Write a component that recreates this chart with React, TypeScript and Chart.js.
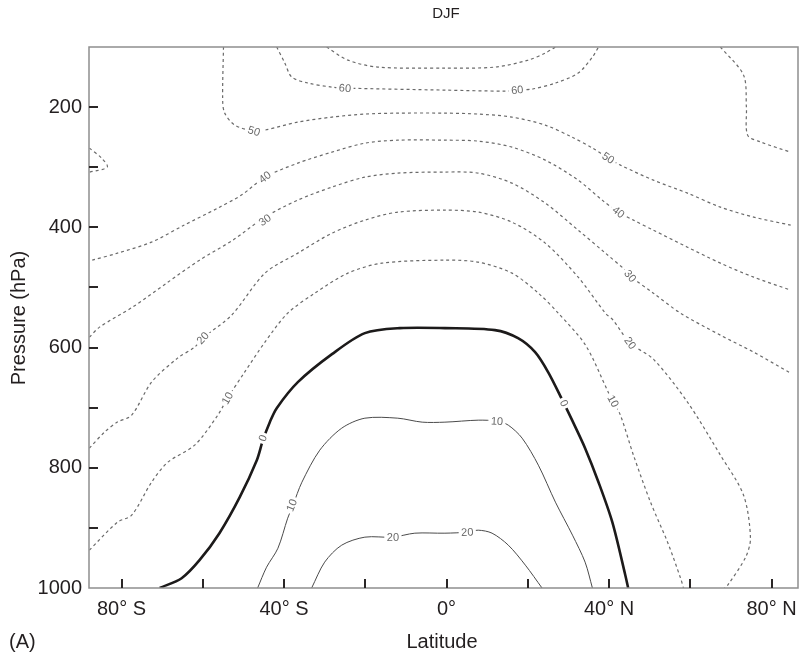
import { useEffect, useRef } from "react";
import { Chart, registerables } from "chart.js";

Chart.register(...registerables);

// Axis ticks
const LAT_TICKS = [-80, -60, -40, -20, 0, 20, 40, 60, 80];
const LAT_LABELED = [-80, -40, 0, 40, 80];
const P_TICKS = [100, 200, 300, 400, 500, 600, 700, 800, 900, 1000];
const P_LABELED = [200, 400, 600, 800, 1000];

// Contours (latitude, pressure hPa)
const C_M70_LAT = [-29.5, -24.3, -16.9, -0.4, 12.0, 20.1, 24.3, 26.8];
const C_M70_P = [100, 121.8, 133.4, 135, 133.4, 121.8, 110, 100];

const C_M60_LAT = [-41.8, -39.8, -38.1, -34.1, -28.2, -25.0, -0.4, 14.4, 17.4, 21.1, 26.8, 32.4, 35.9, 37.4];
const C_M60_P = [100, 126.8, 150, 160, 166.7, 168.4, 171.7, 173.4, 171.7, 170, 160, 143.4, 116.8, 100];

const C_M50_LAT = [-54.9, -55.1, -54.6, -52.1, -47.4, -44.7, -36.6, -28.2, -20.1, -12.0, -0.4, 7.8, 16.1, 24.3, 30.9, 35.9, 39.8, 42.8, 50.9, 59.3, 67.4, 75.6, 84.7];
const C_M50_P = [100, 188.4, 210, 230, 240, 238.3, 225, 216.6, 211.6, 210, 210, 211.6, 216.6, 230, 250, 268, 284.9, 296.5, 321.5, 343.1, 366.4, 383, 396.3];

const C_M50NE_LAT = [67.4, 73.1, 73.8, 74.1, 77.3, 84.7];
const C_M50NE_P = [100, 146.8, 200, 246.6, 258, 275];

const C_SP_LAT = [-87.9, -84.9, -83.5, -87.9];
const C_SP_P = [268.2, 284.9, 299.8, 308.2];

const C_M40_LAT = [-87.2, -81.0, -72.6, -64.5, -56.3, -50.4, -44.7, -36.6, -28.2, -20.1, -12.0, -0.4, 7.8, 16.1, 24.3, 32.4, 38.3, 42.3, 46.0, 50.9, 59.3, 67.4, 75.6, 84.7];
const C_M40_P = [454.6, 443, 424.6, 396, 368, 346, 316.5, 293.2, 274.9, 260, 255, 255, 256.6, 266.6, 288.2, 321.5, 354.7, 374.7, 388, 404.7, 433, 459.6, 482.9, 504.5];

const C_M30_LAT = [-87.9, -85.4, -77.3, -68.9, -60.8, -52.6, -44.7, -36.6, -28.2, -20.1, -12.0, -0.4, 7.8, 16.1, 24.3, 32.4, 39.1, 44.0, 45.2, 50.9, 57.6, 67.4, 75.6, 84.7];
const C_M30_P = [582.7, 566, 532.8, 492.8, 454.6, 421.3, 383, 354.7, 333, 316.5, 309.8, 308, 309.8, 326.5, 359.7, 404.7, 442.9, 471.2, 481, 509.5, 542.8, 579.4, 607.7, 642.6];

const C_M20_LAT = [-87.9, -84.2, -81.0, -77.5, -72.6, -66.2, -62.0, -60.0, -52.9, -44.7, -36.6, -28.2, -20.1, -12.0, -0.4, 7.8, 16.1, 24.3, 32.4, 39.1, 41.0, 45.2, 50.9, 59.3, 67.4, 73.1, 74.8, 73.6, 69.2, 68.4];
const C_M20_P = [767.4, 740.8, 724, 712.5, 657.6, 617.6, 599.3, 584.4, 546.1, 476.2, 442.9, 409.7, 388, 374.7, 371.4, 374.7, 391.4, 426.3, 482.9, 542.8, 554.4, 592.7, 619.3, 690.8, 779, 845.6, 917.1, 948.8, 995.3, 1000];

const C_M10_LAT = [-87.9, -81.0, -77.5, -72.6, -68.6, -62.0, -56.3, -53.9, -49.7, -44.7, -39.1, -32.4, -24.3, -15.9, -0.4, 7.8, 16.1, 22.6, 27.5, 34.2, 39.8, 41.0, 42.8, 46.0, 50.2, 54.4, 57.6, 58.3];
const C_M10_P = [937, 890.5, 878.9, 824, 790.7, 762.4, 712.5, 684.2, 640.9, 591, 542.8, 509.5, 476.2, 459.6, 454.6, 457.9, 476.2, 509.5, 542.8, 596, 674.2, 689.2, 712.5, 779, 857.2, 923.8, 983.7, 1000];

const C_0_LAT = [-70.6, -65.2, -60.8, -55.9, -50.9, -46.7, -45.2, -43.5, -41.8, -36.6, -28.2, -20.1, -11.5, -0.4, 11.9, 17.6, 21.8, 25.0, 28.5, 30.9, 34.1, 37.4, 40.8, 44.0, 44.7];
const C_0_P = [1000, 983.7, 953.7, 908.8, 848.9, 787.4, 754.1, 724.1, 700.8, 657.6, 611, 576, 567.7, 567.7, 571, 584.4, 607.7, 640.9, 687.5, 720.8, 767.4, 824, 890.5, 978.7, 1000];

const C_P10_LAT = [-46.5, -44.3, -41.5, -39.1, -37.8, -35.6, -31.2, -25.8, -20.1, -12.0, -6.0, -0.4, 7.8, 12.5, 15.2, 18.6, 22.6, 26.8, 31.0, 34.1, 35.9];
const C_P10_P = [1000, 965.4, 933.8, 883.9, 862.2, 824, 770.7, 734.1, 717.5, 717.5, 724.1, 724.1, 720.8, 722.5, 729.1, 750.7, 795.7, 857.2, 912.1, 957, 1000];

const C_P20_LAT = [-33.2, -30.0, -25.8, -20.1, -13.2, -7.8, -0.4, 5.1, 7.8, 11.2, 15.2, 19.4, 23.5];
const C_P20_P = [1000, 957, 928.7, 915.4, 915.4, 908.8, 908.8, 907.1, 903.8, 908.8, 928.7, 962, 1000];

// Contour labels
const LABEL_TEXT = ["60", "60", "50", "50", "40", "40", "30", "30", "20", "20", "10", "10", "0", "0", "10", "10", "20", "20"];
const LABEL_LAT = [-25.0, 17.4, -47.4, 39.8, -44.7, 42.3, -44.7, 45.2, -60.0, 45.2, -53.9, 41.0, -45.2, 28.9, -38.1, 12.4, -13.2, 5.1];
const LABEL_P = [168.4, 171.7, 240, 284.9, 316.5, 374.7, 388, 481, 584.4, 592.7, 684.2, 689.2, 750.7, 692.5, 862.2, 722.5, 915.4, 907.1];
const LABEL_SERIES = [1, 1, 2, 2, 5, 5, 6, 6, 7, 7, 8, 8, 9, 9, 10, 10, 11, 11];

const FONT = '"Liberation Sans", Arial, Helvetica, sans-serif';

type Kind = "neg" | "zero" | "pos";

function contour(lat: number[], p: number[], kind: Kind) {
  const style =
    kind === "neg"
      ? { borderColor: "#6a6a6a", borderWidth: 1.2, borderDash: [3, 3] }
      : kind === "zero"
      ? { borderColor: "#1c1a1a", borderWidth: 2.6, borderDash: [] }
      : { borderColor: "#4a4a4a", borderWidth: 1, borderDash: [] };
  return {
    data: lat.map((x, i) => ({ x, y: p[i] })),
    showLine: true,
    pointRadius: 0,
    pointHoverRadius: 0,
    fill: false,
    tension: 0.3,
    ...style,
  };
}

const overlay = {
  id: "overlay",
  afterDatasetsDraw(chart: any) {
    const { ctx, chartArea: a, scales } = chart;
    const xs = scales.x;
    const ys = scales.y;
    ctx.save();

    // contour labels
    ctx.font = `11px ${FONT}`;
    ctx.textAlign = "center";
    ctx.textBaseline = "middle";
    LABEL_TEXT.forEach((t, i) => {
      const px = xs.getPixelForValue(LABEL_LAT[i]);
      const py = ys.getPixelForValue(LABEL_P[i]);
      const pts = chart.data.datasets[LABEL_SERIES[i]].data.map((d: any) => [
        xs.getPixelForValue(d.x),
        ys.getPixelForValue(d.y),
      ]);
      let best = Infinity;
      let ang = 0;
      for (let k = 0; k < pts.length - 1; k++) {
        const [x1, y1] = pts[k];
        const [x2, y2] = pts[k + 1];
        const dx = x2 - x1;
        const dy = y2 - y1;
        const len2 = dx * dx + dy * dy || 1;
        let u = ((px - x1) * dx + (py - y1) * dy) / len2;
        u = Math.max(0, Math.min(1, u));
        const qx = x1 + u * dx - px;
        const qy = y1 + u * dy - py;
        const d = qx * qx + qy * qy;
        if (d < best) {
          best = d;
          ang = Math.atan2(dy, dx);
        }
      }
      if (ang > Math.PI / 2) ang -= Math.PI;
      if (ang < -Math.PI / 2) ang += Math.PI;
      const w = ctx.measureText(t).width + 5;
      ctx.save();
      ctx.translate(px, py);
      ctx.rotate(ang);
      ctx.fillStyle = "#ffffff";
      ctx.fillRect(-w / 2, -5, w, 10);
      ctx.fillStyle = "#6a6a6a";
      ctx.fillText(t, 0, 0.5);
      ctx.restore();
    });

    // frame
    ctx.strokeStyle = "#8e8e8e";
    ctx.lineWidth = 1.5;
    ctx.strokeRect(a.left, a.top, a.right - a.left, a.bottom - a.top);

    // inner ticks
    ctx.strokeStyle = "#2a2626";
    ctx.lineWidth = 2;
    ctx.beginPath();
    P_TICKS.forEach((v) => {
      if (v <= 100 || v >= 1000) return;
      const py = Math.round(ys.getPixelForValue(v));
      ctx.moveTo(a.left, py);
      ctx.lineTo(a.left + 9, py);
    });
    LAT_TICKS.forEach((v) => {
      const px = Math.round(xs.getPixelForValue(v));
      ctx.moveTo(px, a.bottom);
      ctx.lineTo(px, a.bottom - 9);
    });
    ctx.stroke();

    // texts
    ctx.fillStyle = "#231f20";
    ctx.textAlign = "center";
    ctx.textBaseline = "middle";
    ctx.font = `15px ${FONT}`;
    ctx.fillText("DJF", 446, 14);
    ctx.font = `20px ${FONT}`;
    ctx.fillText("Latitude", 442, 642);
    ctx.textAlign = "left";
    ctx.fillText("(A)", 9, 642);
    ctx.save();
    ctx.translate(19, 318);
    ctx.rotate(-Math.PI / 2);
    ctx.textAlign = "center";
    ctx.fillText("Pressure (hPa)", 0, 0);
    ctx.restore();

    ctx.restore();
  },
};

export default function App() {
  const ref = useRef<HTMLCanvasElement | null>(null);

  useEffect(() => {
    if (!ref.current) return;
    const datasets = [
      contour(C_M70_LAT, C_M70_P, "neg"),
      contour(C_M60_LAT, C_M60_P, "neg"),
      contour(C_M50_LAT, C_M50_P, "neg"),
      contour(C_M50NE_LAT, C_M50NE_P, "neg"),
      contour(C_SP_LAT, C_SP_P, "neg"),
      contour(C_M40_LAT, C_M40_P, "neg"),
      contour(C_M30_LAT, C_M30_P, "neg"),
      contour(C_M20_LAT, C_M20_P, "neg"),
      contour(C_M10_LAT, C_M10_P, "neg"),
      contour(C_0_LAT, C_0_P, "zero"),
      contour(C_P10_LAT, C_P10_P, "pos"),
      contour(C_P20_LAT, C_P20_P, "pos"),
    ];
    const chart = new Chart(ref.current, {
      type: "scatter",
      data: { datasets: datasets as any },
      plugins: [overlay as any],
      options: {
        animation: false,
        responsive: false,
        maintainAspectRatio: false,
        events: [],
        layout: { padding: { left: 0, right: 3, top: 47, bottom: 0 } },
        plugins: {
          legend: { display: false },
          tooltip: { enabled: false },
          title: { display: false },
        },
        scales: {
          x: {
            type: "linear",
            min: -88,
            max: 86.5,
            afterBuildTicks: (s: any) => {
              s.ticks = LAT_TICKS.map((v) => ({ value: v }));
            },
            afterFit: (s: any) => {
              s.height = 75;
              s.paddingLeft = 0;
              s.paddingRight = 0;
            },
            grid: { display: false, drawTicks: false },
            border: { display: false },
            ticks: {
              autoSkip: false,
              maxRotation: 0,
              padding: 9,
              color: "#231f20",
              font: { family: FONT, size: 20 },
              callback: (v: any) => {
                const n = Number(v);
                if (!LAT_LABELED.includes(n)) return "";
                if (n === 0) return "0°";
                return n < 0 ? `${-n}° S` : `${n}° N`;
              },
            },
          },
          y: {
            type: "linear",
            reverse: true,
            min: 100,
            max: 1000,
            afterBuildTicks: (s: any) => {
              s.ticks = P_TICKS.map((v) => ({ value: v }));
            },
            afterFit: (s: any) => {
              s.width = 89;
              s.paddingTop = 0;
              s.paddingBottom = 0;
            },
            grid: { display: false, drawTicks: false },
            border: { display: false },
            ticks: {
              autoSkip: false,
              padding: 7,
              color: "#231f20",
              font: { family: FONT, size: 20 },
              callback: (v: any) => (P_LABELED.includes(Number(v)) ? String(v) : ""),
            },
          },
        },
      },
    });
    return () => chart.destroy();
  }, []);

  return (
    <div style={{ position: "absolute", left: 0, top: 0, width: 801, height: 663, background: "#fff" }}>
      <canvas ref={ref} width={801} height={663} style={{ display: "block" }} />
    </div>
  );
}
